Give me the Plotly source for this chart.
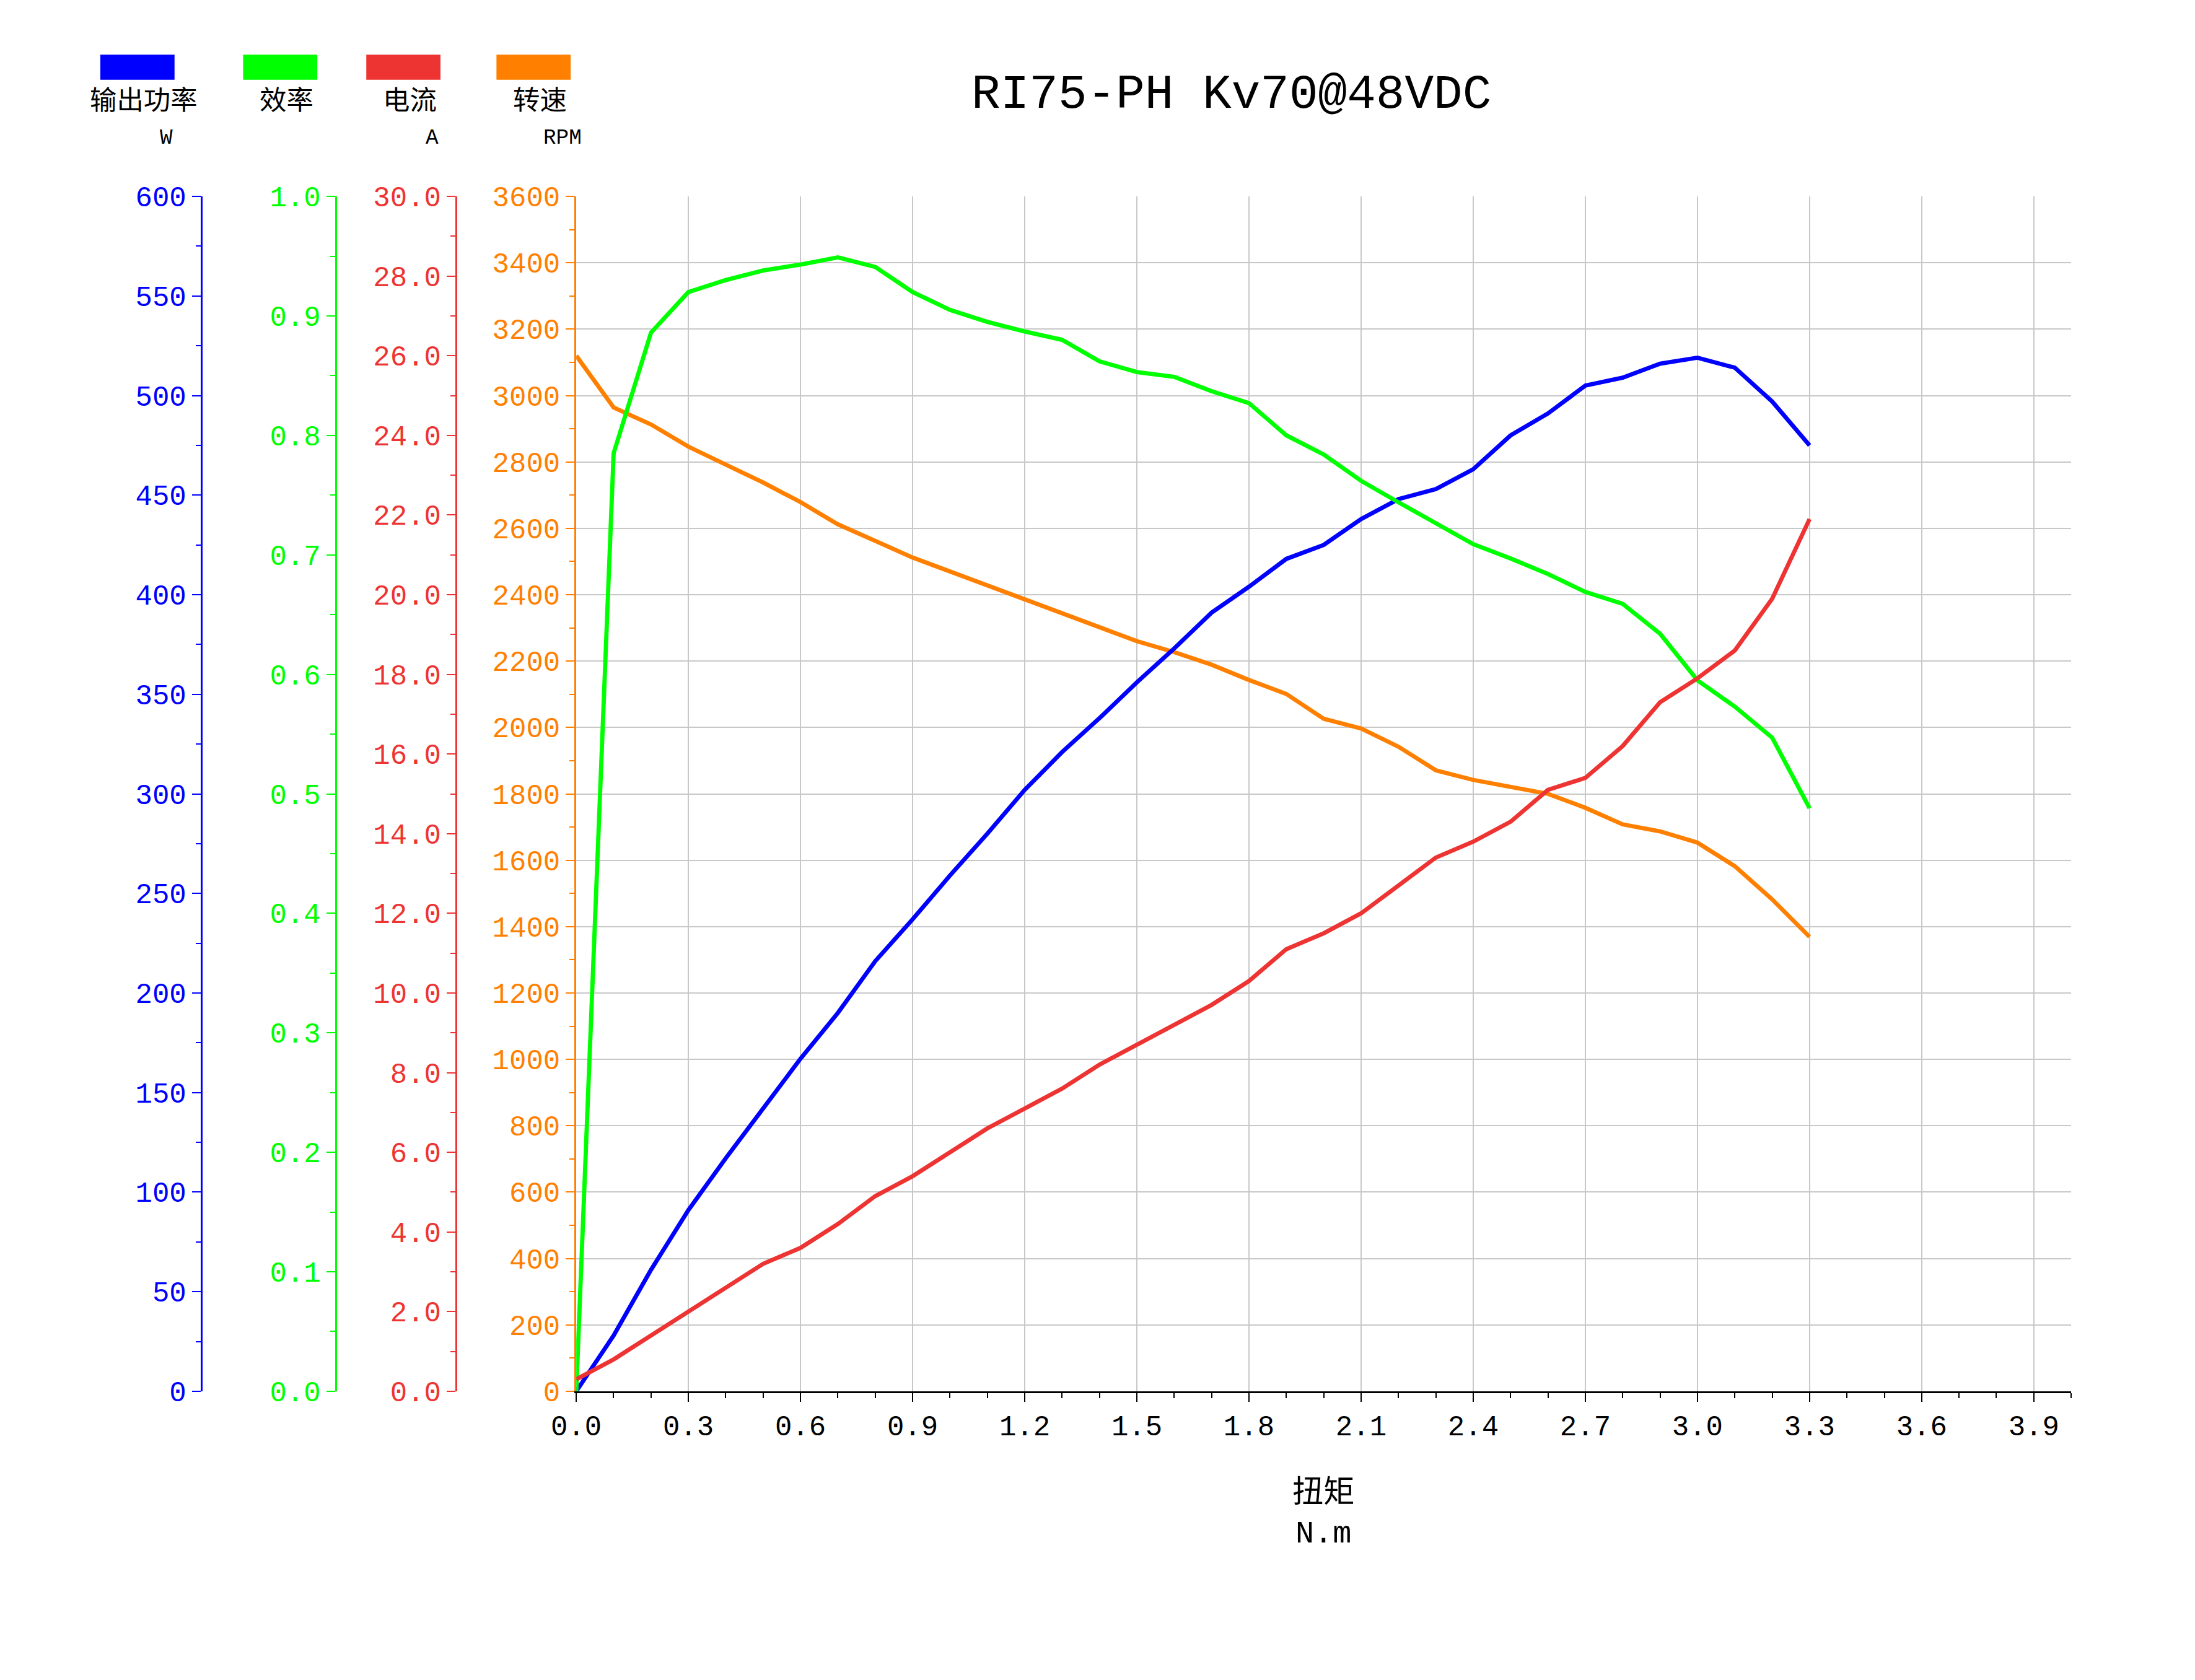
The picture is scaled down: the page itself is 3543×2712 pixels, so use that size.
import plotly.graph_objects as go

# torque in N.m
torque = [round(i * 0.1, 1) for i in range(34)]

power = [0, 28, 61, 91, 117, 142, 167, 190, 216, 237, 259, 280, 302, 321, 338, 356, 373,
         391, 404, 418, 425, 438, 448, 453, 463, 480, 491, 505, 509, 516, 519, 514, 497, 475]
efficiency = [0, 0.785, 0.886, 0.920, 0.930, 0.938, 0.943, 0.949, 0.941, 0.920, 0.905, 0.895,
              0.887, 0.880, 0.862, 0.853, 0.849, 0.837, 0.827, 0.800, 0.784, 0.762, 0.744,
              0.727, 0.709, 0.697, 0.684, 0.669, 0.659, 0.634, 0.595, 0.573, 0.547, 0.488]
current = [0.3, 0.8, 1.4, 2.0, 2.6, 3.2, 3.6, 4.2, 4.9, 5.4, 6.0, 6.6, 7.1, 7.6, 8.2, 8.7, 9.2,
           9.7, 10.3, 11.1, 11.5, 12.0, 12.7, 13.4, 13.8, 14.3, 15.1, 15.4, 16.2, 17.3, 17.9,
           18.6, 19.9, 21.9]
speed = [3120, 2964, 2913, 2846, 2792, 2738, 2679, 2612, 2562, 2512, 2470, 2428, 2386, 2344,
         2302, 2260, 2227, 2189, 2143, 2101, 2026, 1997, 1942, 1871, 1842, 1821, 1800, 1758,
         1708, 1687, 1653, 1582, 1482, 1369]

BLUE, GREEN, RED, ORANGE = "#0000ff", "#00ff00", "#ee3333", "#ff8000"
FONT = "Liberation Mono, Noto Sans CJK SC"
S = 3543 / 1550  # scale from sketch pixels
W, H = 3543, 2712
fx = lambda px: (px - 20) / 1550
fy = lambda py: 1 - (py - 12) / 1186
LW = 3 * S

fig = go.Figure()
fig.add_trace(go.Scatter(x=torque, y=power, yaxis="y2", line=dict(color=BLUE, width=LW), mode="lines"))
fig.add_trace(go.Scatter(x=torque, y=efficiency, yaxis="y3", line=dict(color=GREEN, width=LW), mode="lines"))
fig.add_trace(go.Scatter(x=torque, y=current, yaxis="y4", line=dict(color=RED, width=LW), mode="lines"))
fig.add_trace(go.Scatter(x=torque, y=speed, yaxis="y", line=dict(color=ORANGE, width=LW), mode="lines"))

ydom = [fy(1000), fy(140)]
tf = 20 * S


def yax(color, rng, dtick, minor, fmt, pos, grid=False, overlay=True):
    d = dict(range=rng, dtick=dtick, tick0=0, tickformat=fmt, domain=ydom,
             showline=True, linecolor=color, linewidth=1.3 * S,
             ticks="outside", ticklen=6 * S, tickwidth=1 * S, tickcolor=color,
             tickfont=dict(color=color, size=tf, family=FONT),
             minor=dict(dtick=minor, ticks="outside", ticklen=3.5 * S, tickcolor=color, tickwidth=1 * S,
                        showgrid=False),
             showgrid=grid, gridcolor="#c8c8c8", gridwidth=1 * S, zeroline=False, side="left")
    if overlay:
        d.update(overlaying="y", anchor="free", position=pos)
    else:
        d.update(anchor="x")
    return d


fig.update_layout(
    width=W, height=H, plot_bgcolor="white", paper_bgcolor="white", showlegend=False,
    margin=dict(l=0, r=0, t=0, b=0),
    xaxis=dict(domain=[fx(410), fx(1478)], range=[0, 4.0], dtick=0.3, tick0=0, tickformat=".1f",
               showline=True, linecolor="black", linewidth=1.3 * S, ticks="outside",
               ticklen=6 * S, tickwidth=1 * S, tickcolor="black",
               minor=dict(dtick=0.1, ticks="outside", ticklen=3.5 * S, tickcolor="black", showgrid=False),
               showgrid=True, gridcolor="#c8c8c8", gridwidth=1 * S, zeroline=False,
               tickfont=dict(size=tf, family=FONT, color="black")),
    yaxis=yax(ORANGE, [0, 3600], 200, 100, "d", fx(410), grid=True, overlay=False),
    yaxis2=yax(BLUE, [0, 600], 50, 25, "d", fx(142)),
    yaxis3=yax(GREEN, [0, 1.0], 0.1, 0.05, ".1f", fx(238)),
    yaxis4=yax(RED, [0, 30], 2, 1, ".1f", fx(324)),
)


def label(text, px, py, size):
    fig.add_annotation(text=text, x=fx(px), y=fy(py), xref="paper", yref="paper",
                       xanchor="center", yanchor="middle", showarrow=False,
                       font=dict(size=size * S, family=FONT, color="black"))


label("RI75-PH Kv70@48VDC", 878, 67, 34)
label("扭矩<br>N.m", 944, 1088, 22)

legend = [("输出功率", "W", BLUE, 70), ("效率", "", GREEN, 172), ("电流", "A", RED, 260), ("转速", "RPM", ORANGE, 353)]
for name, unit, color, x0 in legend:
    fig.add_shape(type="rect", xref="paper", yref="paper", x0=fx(x0), x1=fx(x0 + 53),
                  y0=fy(56), y1=fy(38), fillcolor=color, line=dict(width=0))
    label(name, x0 + 31, 72, 19)
    if unit:
        label(unit, x0 + 47, 98, 15)

fig.write_html("out.html")
